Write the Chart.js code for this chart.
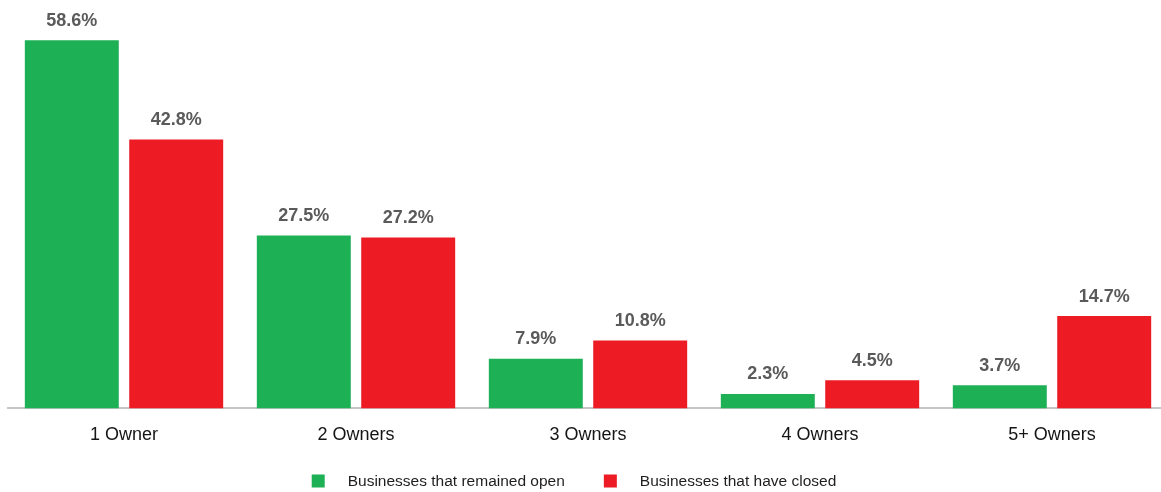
<!DOCTYPE html>
<html>
<head>
<meta charset="utf-8">
<script src="https://cdn.jsdelivr.net/npm/chart.js@4.4.0/dist/chart.umd.min.js"></script>
<style>
  html, body { margin: 0; padding: 0; background: #fff; overflow: hidden; }
  #wrap { width: 1161px; height: 492px; overflow: hidden; }
</style>
</head>
<body>
<div id="wrap"><canvas id="ownersChart" width="1168" height="492"></canvas></div>
<script>
const ownerGroups = ['1 Owner', '2 Owners', '3 Owners', '4 Owners', '5+ Owners'];
const seriesNames = ['Businesses that remained open', 'Businesses that have closed'];
const remainedOpen = [58.6, 27.5, 7.9, 2.3, 3.7];
const haveClosed = [42.8, 27.2, 10.8, 4.5, 14.7];
const seriesColors = ['#1db054', '#ed1c24'];

const fontFamily = "'Liberation Sans', Arial, sans-serif";

// percent labels above every bar
const valueLabels = {
    id: 'valueLabels',
    afterDatasetsDraw(chart) {
        const ctx = chart.ctx;
        ctx.save();
        ctx.font = `bold 18px ${fontFamily}`;
        ctx.fillStyle = '#5a5a5a';
        ctx.textAlign = 'center';
        ctx.textBaseline = 'alphabetic';
        chart.data.datasets.forEach((ds, i) => {
            const meta = chart.getDatasetMeta(i);
            meta.data.forEach((bar, j) => {
                ctx.fillText(ds.data[j].toFixed(1) + '%', bar.x, bar.y - 14.5);
            });
        });
        ctx.restore();
    }
};

// legend row under the axis labels, square box + wide gap before text
const bottomLegend = {
    id: 'bottomLegend',
    afterDraw(chart) {
        const ctx = chart.ctx;
        const box = 13, gap = 23, spacing = 39, cy = 481;
        ctx.save();
        ctx.font = `15.5px ${fontFamily}`;
        ctx.textBaseline = 'alphabetic';
        ctx.textAlign = 'left';
        const items = chart.data.datasets.map(ds => ({
            text: ds.label,
            color: ds.backgroundColor,
            w: ctx.measureText(ds.label).width
        }));
        const total = items.reduce((s, it) => s + box + gap + it.w, 0) + spacing * (items.length - 1);
        let x = 574 - total / 2;
        items.forEach(it => {
            ctx.fillStyle = it.color;
            ctx.fillRect(x, cy - box / 2, box, box);
            ctx.fillStyle = '#1e1e1e';
            ctx.fillText(it.text, x + box + gap, 486);
            x += box + gap + it.w + spacing;
        });
        ctx.restore();
    }
};

new Chart(document.getElementById('ownersChart'), {
    type: 'bar',
    data: {
        labels: ownerGroups,
        datasets: [
            { label: seriesNames[0], data: remainedOpen, backgroundColor: seriesColors[0] },
            { label: seriesNames[1], data: haveClosed, backgroundColor: seriesColors[1] }
        ]
    },
    options: {
        responsive: false,
        animation: false,
        devicePixelRatio: 1,
        layout: { padding: { left: 8, right: 0, top: 0, bottom: 30 } },
        datasets: {
            bar: { categoryPercentage: 0.9, barPercentage: 0.9 }
        },
        plugins: {
            legend: { display: false },
            tooltip: { enabled: false }
        },
        scales: {
            x: {
                grid: { display: false, drawTicks: false },
                border: { color: '#c6c6c6', width: 2 },
                ticks: {
                    padding: 16,
                    color: '#151515',
                    font: { family: fontFamily, size: 18 }
                }
            },
            y: {
                display: false,
                min: 0,
                max: 65
            }
        }
    },
    plugins: [valueLabels, bottomLegend]
});
</script>
</body>
</html>
